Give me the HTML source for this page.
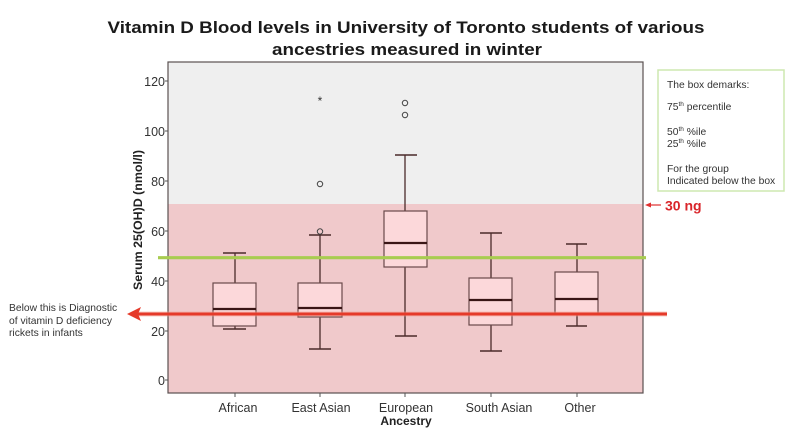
<!DOCTYPE html>
<html>
<head>
<meta charset="utf-8">
<style>
html,body{margin:0;padding:0;background:#fff;}
svg{display:block;}
text{font-family:"Liberation Sans",Arial,sans-serif;}
</style>
</head>
<body>
<svg width="800" height="439" viewBox="0 0 800 439" xmlns="http://www.w3.org/2000/svg">
  <rect x="0" y="0" width="800" height="439" fill="#ffffff"/>
  <!-- Title -->
  <text x="406" y="33" font-size="17" font-weight="bold" fill="#1a1a1a" text-anchor="middle" textLength="597" lengthAdjust="spacingAndGlyphs">Vitamin D Blood levels in University of Toronto students of various</text>
  <text x="407" y="55" font-size="17" font-weight="bold" fill="#1a1a1a" text-anchor="middle" textLength="270" lengthAdjust="spacingAndGlyphs">ancestries measured in winter</text>

  <!-- Plot background -->
  <rect x="168" y="62" width="475" height="142" fill="#efefef"/>
  <rect x="168" y="204" width="475" height="189" fill="#f0c9cb"/>
  <rect x="168" y="62" width="475" height="331" fill="none" stroke="#5a5050" stroke-width="1.2"/>

  <!-- Y ticks & labels -->
  <g stroke="#555" stroke-width="1">
    <line x1="165" y1="81" x2="168" y2="81"/>
    <line x1="165" y1="131" x2="168" y2="131"/>
    <line x1="165" y1="181" x2="168" y2="181"/>
    <line x1="165" y1="231" x2="168" y2="231"/>
    <line x1="165" y1="281" x2="168" y2="281"/>
    <line x1="165" y1="331" x2="168" y2="331"/>
    <line x1="165" y1="380" x2="168" y2="380"/>
  </g>
  <g font-size="12.5" fill="#333" text-anchor="end">
    <text x="165" y="86">120</text>
    <text x="165" y="136">100</text>
    <text x="165" y="186">80</text>
    <text x="165" y="236">60</text>
    <text x="165" y="286">40</text>
    <text x="165" y="336">20</text>
    <text x="165" y="385">0</text>
  </g>
  <text transform="translate(142,220) rotate(-90)" font-size="12" font-weight="bold" fill="#222" text-anchor="middle" textLength="140" lengthAdjust="spacingAndGlyphs">Serum 25(OH)D (nmol/l)</text>

  <!-- X ticks & labels -->
  <g stroke="#555" stroke-width="1">
    <line x1="235" y1="393" x2="235" y2="397"/>
    <line x1="320" y1="393" x2="320" y2="397"/>
    <line x1="405" y1="393" x2="405" y2="397"/>
    <line x1="491" y1="393" x2="491" y2="397"/>
    <line x1="577" y1="393" x2="577" y2="397"/>
  </g>
  <g font-size="12.5" fill="#333" text-anchor="middle">
    <text x="238" y="412">African</text>
    <text x="321" y="412">East Asian</text>
    <text x="406" y="412">European</text>
    <text x="499" y="412">South Asian</text>
    <text x="580" y="412">Other</text>
  </g>
  <text x="406" y="425" font-size="12" font-weight="bold" fill="#222" text-anchor="middle">Ancestry</text>

  <!-- Boxes -->
  <g stroke="#4a2a2a" stroke-width="1.3" fill="none">
    <!-- African -->
    <line x1="235" y1="253" x2="235" y2="283"/>
    <line x1="235" y1="326" x2="235" y2="329"/>
    <line x1="223" y1="253" x2="246" y2="253" stroke-width="1.6"/>
    <line x1="223" y1="329" x2="246" y2="329" stroke-width="1.6"/>
    <!-- East Asian -->
    <line x1="320" y1="235" x2="320" y2="283"/>
    <line x1="320" y1="317" x2="320" y2="349"/>
    <line x1="309" y1="235" x2="331" y2="235" stroke-width="1.6"/>
    <line x1="309" y1="349" x2="331" y2="349" stroke-width="1.6"/>
    <!-- European -->
    <line x1="405" y1="155" x2="405" y2="211"/>
    <line x1="405" y1="267" x2="405" y2="336"/>
    <line x1="395" y1="155" x2="417" y2="155" stroke-width="1.6"/>
    <line x1="395" y1="336" x2="417" y2="336" stroke-width="1.6"/>
    <!-- South Asian -->
    <line x1="491" y1="233" x2="491" y2="278"/>
    <line x1="491" y1="325" x2="491" y2="351"/>
    <line x1="480" y1="233" x2="502" y2="233" stroke-width="1.6"/>
    <line x1="480" y1="351" x2="502" y2="351" stroke-width="1.6"/>
    <!-- Other -->
    <line x1="577" y1="244" x2="577" y2="272"/>
    <line x1="577" y1="314" x2="577" y2="326"/>
    <line x1="566" y1="244" x2="587" y2="244" stroke-width="1.6"/>
    <line x1="566" y1="326" x2="587" y2="326" stroke-width="1.6"/>
  </g>
  <g stroke="#6a4a4a" stroke-width="1.2" fill="#fcd8da">
    <rect x="213" y="283" width="43" height="43"/>
    <rect x="298" y="283" width="44" height="34"/>
    <rect x="384" y="211" width="43" height="56"/>
    <rect x="469" y="278" width="43" height="47"/>
    <rect x="555" y="272" width="43" height="42"/>
  </g>
  <g stroke="#3a1616" stroke-width="2.2">
    <line x1="213" y1="309" x2="256" y2="309"/>
    <line x1="298" y1="308" x2="342" y2="308"/>
    <line x1="384" y1="243" x2="427" y2="243"/>
    <line x1="469" y1="300" x2="512" y2="300"/>
    <line x1="555" y1="299" x2="598" y2="299"/>
  </g>

  <!-- Outliers -->
  <g stroke="#444" stroke-width="1" fill="none">
    <circle cx="320" cy="184" r="2.7"/>
    <circle cx="320" cy="231.5" r="2.7"/>
    <circle cx="405" cy="103" r="2.7"/>
    <circle cx="405" cy="115" r="2.7"/>
  </g>
  <text x="320" y="105" font-size="12" fill="#333" text-anchor="middle">*</text>

  <!-- Green line -->
  <line x1="158" y1="257.7" x2="646" y2="257.7" stroke="#a8cc50" stroke-width="3.2"/>

  <!-- Red line with arrow -->
  <line x1="134" y1="314" x2="667" y2="314" stroke="#f3a090" stroke-width="5" opacity="0.5"/>
  <line x1="134" y1="314" x2="667" y2="314" stroke="#e53a2a" stroke-width="3"/>
  <path d="M127,314 L141,307 L138,314 L141,321 Z" fill="#e53a2a"/>

  <!-- Left annotation -->
  <g font-size="10.3" fill="#333">
    <text x="9" y="311">Below this is Diagnostic</text>
    <text x="9" y="324">of vitamin D deficiency</text>
    <text x="9" y="336">rickets in infants</text>
  </g>

  <!-- 30 ng -->
  <line x1="650" y1="205" x2="661" y2="205" stroke="#e03030" stroke-width="1.2"/>
  <path d="M645,205 L651,202.5 L651,207.5 Z" fill="#e03030"/>
  <text x="665" y="210.5" font-size="14" font-weight="bold" fill="#d9252a">30 ng</text>

  <!-- Legend box -->
  <rect x="658" y="70" width="126" height="121" fill="#ffffff" stroke="#cde8b0" stroke-width="1.5"/>
  <g font-size="10.3" fill="#333">
    <text x="667" y="88">The box demarks:</text>
    <text x="667" y="110">75<tspan font-size="6.5" dy="-4">th</tspan><tspan dy="4"> percentile</tspan></text>
    <text x="667" y="135">50<tspan font-size="6.5" dy="-4">th</tspan><tspan dy="4"> %ile</tspan></text>
    <text x="667" y="147">25<tspan font-size="6.5" dy="-4">th</tspan><tspan dy="4"> %ile</tspan></text>
    <text x="667" y="172">For the group</text>
    <text x="667" y="184">Indicated below the box</text>
  </g>
</svg>
</body>
</html>
